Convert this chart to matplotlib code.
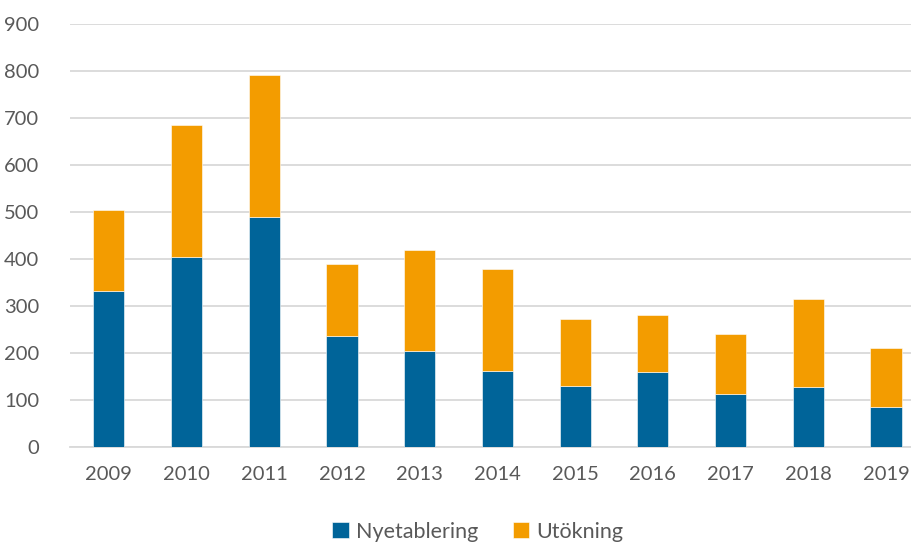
import matplotlib.pyplot as plt
import numpy as np

years = ["2009", "2010", "2011", "2012", "2013", "2014", "2015", "2016", "2017", "2018", "2019"]
nyetablering = [332, 405, 489, 237, 204, 163, 131, 161, 114, 128, 85]
totals = [505, 686, 791, 390, 419, 380, 272, 282, 241, 316, 211]
utokning = [t - n for t, n in zip(totals, nyetablering)]

blue = "#006499"
orange = "#F39C00"
grey = "#595959"

plt.rcParams["font.family"] = ["Lato", "DejaVu Sans"]

fig = plt.figure(figsize=(9.12, 5.42), dpi=100)
ax = fig.add_axes([0.0768, 0.1744, 0.9232, 0.7813])

x = np.arange(len(years))
ax.bar(x, nyetablering, width=0.4, color=blue, label="Nyetablering", zorder=3,
       edgecolor="white", linewidth=0.4)
ax.bar(x, utokning, width=0.4, bottom=nyetablering, color=orange, label="Utökning",
       zorder=3, edgecolor="white", linewidth=0.4)

ax.set_ylim(0, 900)
ax.set_xlim(-0.5, 10.335)
ax.set_yticks(range(0, 1000, 100))
ax.set_xticks(x)
ax.set_xticklabels(years)
ax.yaxis.grid(True, color="#d9d9d9", linewidth=1.3, zorder=0)
ax.tick_params(axis="both", length=0, labelsize=14.5, colors=grey)
ax.tick_params(axis="x", pad=13)
ax.tick_params(axis="y", pad=22)
for s in ["top", "right", "left"]:
    ax.spines[s].set_visible(False)
ax.spines["bottom"].set_color("#d9d9d9")
ax.spines["bottom"].set_linewidth(1.3)

leg = fig.legend(loc="lower center", bbox_to_anchor=(0.524, -0.035), ncol=2, frameon=False,
                 fontsize=15.5, handlelength=0.75, handleheight=0.75, columnspacing=1.6,
                 handletextpad=0.35)
for t in leg.get_texts():
    t.set_color(grey)

fig.savefig("out.png", dpi=100)
